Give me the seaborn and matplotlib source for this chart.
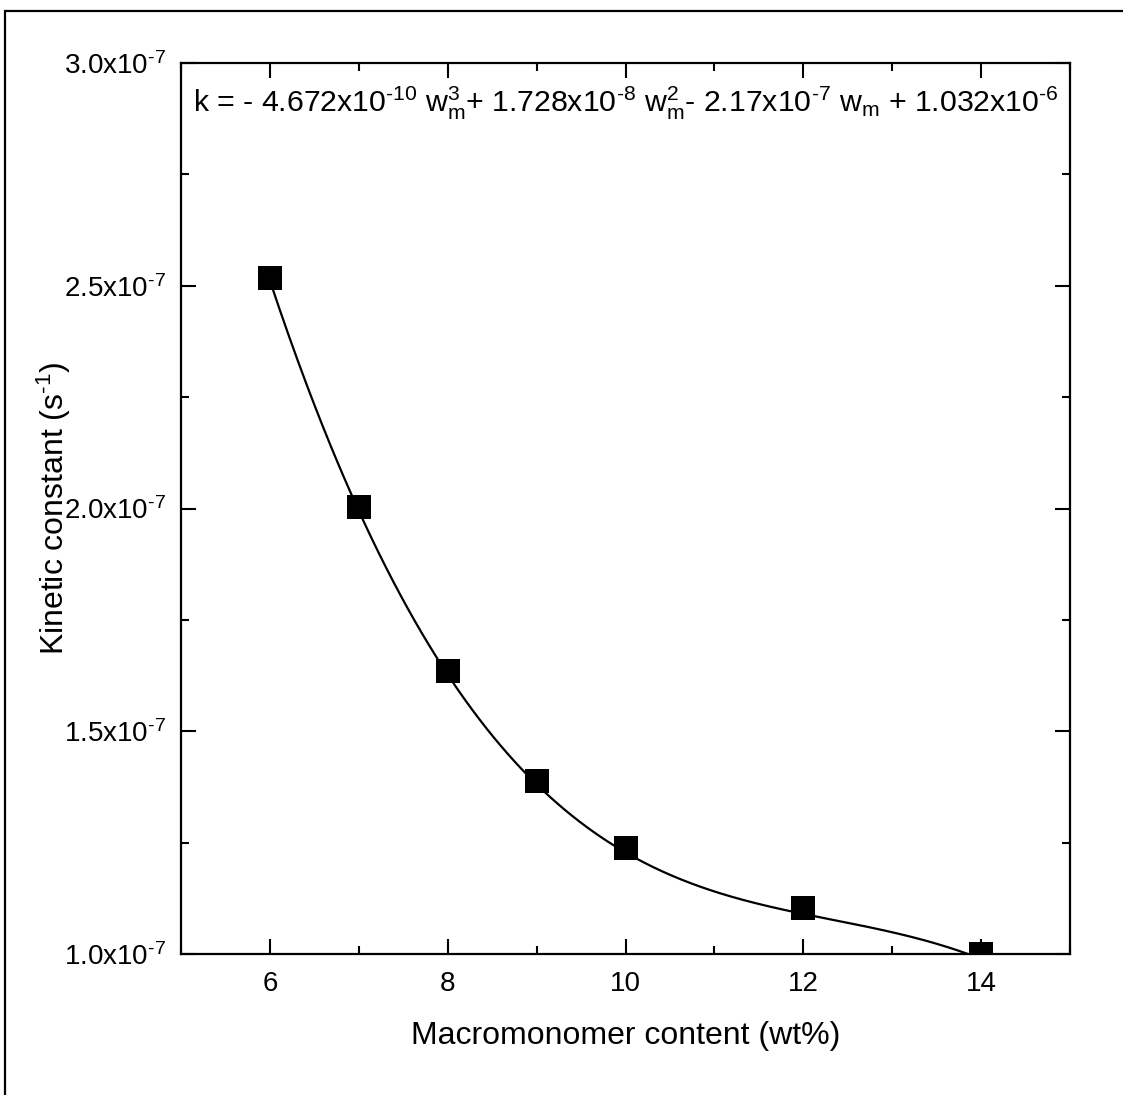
import numpy as np
import pandas as pd
import matplotlib
matplotlib.use("Agg")
import matplotlib.pyplot as plt
from matplotlib.ticker import MultipleLocator, FuncFormatter
from matplotlib.patches import Rectangle
import seaborn as sns

# data
content = [6, 7, 8, 9, 10, 12, 14]
kconst = [2.518e-7, 2.003e-7, 1.635e-7, 1.389e-7, 1.237e-7, 1.1025e-7, 1.0e-7]
# fit coefficients printed on the chart (w^3, w^2, w, 1)
fit_coef = [-4.672e-10, 1.728e-8, -2.17e-7, 1.032e-6]
xticks = [6, 8, 10, 12, 14]
yticks = [1.0e-7, 1.5e-7, 2.0e-7, 2.5e-7, 3.0e-7]

sns.set_style("ticks", {"axes.edgecolor": "black", "text.color": "black",
                        "xtick.color": "black", "ytick.color": "black",
                        "axes.labelcolor": "black"})
plt.rcParams['font.family'] = ['Liberation Sans', 'DejaVu Sans']
plt.rcParams['mathtext.default'] = 'regular'

HY = "\u2010"  # plain hyphen instead of the long math minus

df = pd.DataFrame({"w": content, "k": kconst})
wfit = np.linspace(min(content), max(content), 300)
fit = pd.DataFrame({"w": wfit, "k": np.polyval(fit_coef, wfit)})

fig = plt.figure(figsize=(11.23, 10.95), dpi=100)
ax = fig.add_axes([181/1123, 1-954/1095, 889/1123, 891/1095])

sns.lineplot(data=fit, x="w", y="k", color="black", linewidth=1.6, ax=ax, zorder=2)
sns.scatterplot(data=df, x="w", y="k", marker="s", s=290, color="black",
                linewidth=0, ax=ax, zorder=3)

ax.set_xlim(5, 15)
ax.set_ylim(1.0e-7, 3.0e-7)
ax.set_xticks(xticks)
ax.set_yticks(yticks)
ax.xaxis.set_minor_locator(MultipleLocator(1))
ax.yaxis.set_minor_locator(MultipleLocator(0.25e-7))
ax.yaxis.set_major_formatter(FuncFormatter(lambda v, p: "%.1fx10$^{%s7}$" % (v/1e-7, HY)))

ax.tick_params(which="both", direction="in", top=True, right=True, width=1.5,
               labelsize=20, colors="black")
ax.tick_params(which="major", length=11)
ax.tick_params(which="minor", length=6)
ax.tick_params(axis="y", pad=11)
ax.tick_params(axis="x", pad=12)
for sp in ax.spines.values():
    sp.set_linewidth(1.6)
    sp.set_color("black")
    sp.set_visible(True)

ax.set_xlabel("Macromonomer content (wt%)", fontsize=23)
ax.set_ylabel("Kinetic constant (s$^{%s1}$)" % HY, fontsize=23)
ax.xaxis.set_label_coords(0.5, -0.075)
ax.yaxis.set_label_coords(-0.121, 0.5)

eq = ("k = - 4.672x10$^{%s10}$ w$_m^3$+ 1.728x10$^{%s8}$ w$_m^2$- 2.17x10$^{%s7}$ w$_m$"
      " + 1.032x10$^{%s6}$") % (HY, HY, HY, HY)
ax.text(0.0135, (954-112)/891, eq, transform=ax.transAxes, fontsize=21.75,
        va="baseline", ha="left")

# outer frame around the figure
fig.patches.append(Rectangle((5/1123, -0.05), 1.2, 1-11/1095+0.05, transform=fig.transFigure,
                             fill=False, edgecolor="black", linewidth=1.6))

fig.savefig("out.png", dpi=100)
